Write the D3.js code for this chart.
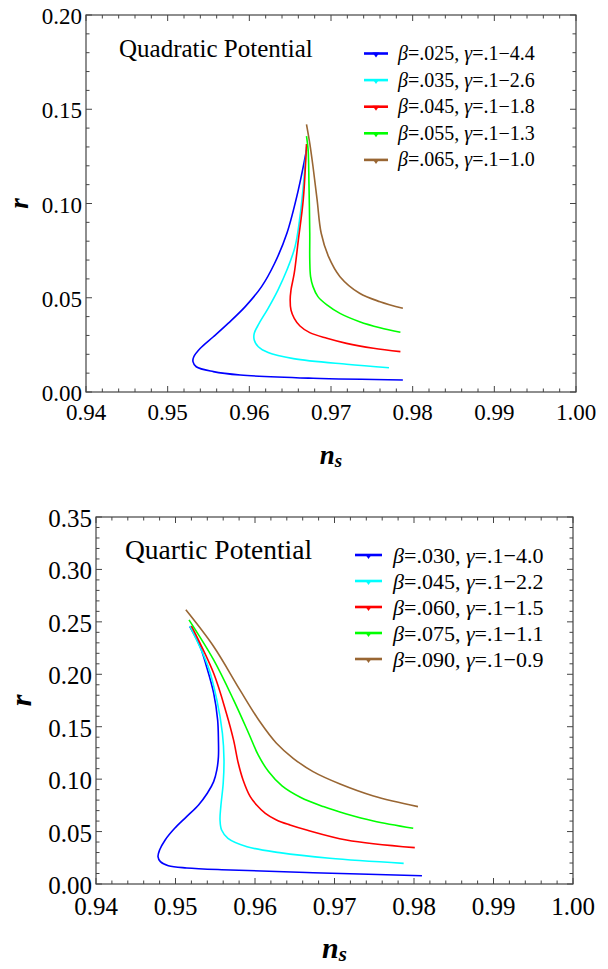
<!DOCTYPE html>
<html>
<head>
<meta charset="utf-8">
<script src="https://cdn.jsdelivr.net/npm/d3@7"></script>
<style>
  body { margin: 0; background: #fff; }
  svg { display: block; }
  text { font-family: "Liberation Serif", "Times New Roman", serif; fill: #000; }
</style>
</head>
<body>
<svg id="fig" width="608" height="969" font-family="Liberation Serif, serif"></svg>
<script>
// ---- data ----
var xTicks = [0.94, 0.95, 0.96, 0.97, 0.98, 0.99, 1.0];
var quadYTicks = [0, 0.05, 0.1, 0.15, 0.2];
var quartYTicks = [0, 0.05, 0.1, 0.15, 0.2, 0.25, 0.3, 0.35];
var seriesColors = ["#0000ff", "#00ffff", "#ff0000", "#00ff00", "#996633"];

var quadBeta = [".025", ".035", ".045", ".055", ".065"];
var quadGamma = [".1\u22124.4", ".1\u22122.6", ".1\u22121.8", ".1\u22121.3", ".1\u22121.0"];
var quartBeta = [".030", ".045", ".060", ".075", ".090"];
var quartGamma = [".1\u22124.0", ".1\u22122.2", ".1\u22121.5", ".1\u22121.1", ".1\u22120.9"];

// quadratic potential, [n_s, r]
var quad1 = [[0.9670, 0.1284], [0.9660, 0.1072], [0.9646, 0.0842], [0.9631, 0.0683], [0.9615, 0.0559],
  [0.9595, 0.0453], [0.9574, 0.0364], [0.9556, 0.0293], [0.9540, 0.0232], [0.9532, 0.0187],
  [0.9531, 0.0161], [0.9535, 0.0134], [0.9556, 0.0108], [0.9589, 0.0090], [0.9678, 0.0073], [0.9788, 0.0064]];
var quad2 = [[0.9670, 0.1301], [0.9666, 0.1089], [0.9662, 0.0930], [0.9656, 0.0771], [0.9646, 0.0647],
  [0.9635, 0.0541], [0.9623, 0.0444], [0.9612, 0.0364], [0.9606, 0.0311], [0.9606, 0.0276],
  [0.9611, 0.0240], [0.9623, 0.0209], [0.9654, 0.0177], [0.9719, 0.0147], [0.9771, 0.0129]];
var quad3 = [[0.9670, 0.1316], [0.9666, 0.1019], [0.9660, 0.0806], [0.9655, 0.0630], [0.9651, 0.0541],
  [0.9650, 0.0488], [0.9651, 0.0435], [0.9655, 0.0391], [0.9662, 0.0350], [0.9674, 0.0315],
  [0.9695, 0.0285], [0.9719, 0.0258], [0.9752, 0.0232], [0.9785, 0.0214]];
var quad4 = [[0.9670, 0.1358], [0.9672, 0.1284], [0.9673, 0.1107], [0.9674, 0.0842], [0.9674, 0.0700],
  [0.9675, 0.0612], [0.9678, 0.0559], [0.9684, 0.0506], [0.9695, 0.0462], [0.9711, 0.0417],
  [0.9735, 0.0373], [0.9760, 0.0341], [0.9785, 0.0317]];
var quad5 = [[0.9670, 0.1420], [0.9674, 0.1319], [0.9678, 0.1195], [0.9683, 0.1019], [0.9688, 0.0842],
  [0.9697, 0.0718], [0.9711, 0.0612], [0.9735, 0.0524], [0.9760, 0.0479], [0.9788, 0.0444]];

// quartic potential, [n_s, r]
var quart1 = [[0.9518, 0.2455], [0.9531, 0.2264], [0.9539, 0.2074], [0.9548, 0.1820], [0.9553, 0.1565],
  [0.9554, 0.1374], [0.9554, 0.1215], [0.9552, 0.1088], [0.9548, 0.0976], [0.9540, 0.0865],
  [0.9529, 0.0754], [0.9514, 0.0642], [0.9499, 0.0531], [0.9487, 0.0420], [0.9480, 0.0324],
  [0.9478, 0.0261], [0.9481, 0.0213], [0.9491, 0.0175], [0.9514, 0.0153], [0.9569, 0.0134],
  [0.9673, 0.0108], [0.9810, 0.0079]];
var quart2 = [[0.9518, 0.2462], [0.9541, 0.2074], [0.9552, 0.1756], [0.9559, 0.1438], [0.9561, 0.1183],
  [0.9560, 0.0961], [0.9557, 0.0738], [0.9556, 0.0611], [0.9558, 0.0515], [0.9566, 0.0436],
  [0.9590, 0.0356], [0.9631, 0.0299], [0.9694, 0.0245], [0.9787, 0.0197]];
var quart3 = [[0.9520, 0.2462], [0.9548, 0.2010], [0.9564, 0.1629], [0.9573, 0.1374], [0.9579, 0.1151],
  [0.9585, 0.0992], [0.9594, 0.0833], [0.9602, 0.0754], [0.9613, 0.0674], [0.9627, 0.0611],
  [0.9644, 0.0563], [0.9665, 0.0515], [0.9715, 0.0420], [0.9801, 0.0347]];
var quart4 = [[0.9517, 0.2519], [0.9548, 0.2137], [0.9573, 0.1756], [0.9592, 0.1438], [0.9604, 0.1231],
  [0.9617, 0.1072], [0.9634, 0.0935], [0.9657, 0.0827], [0.9686, 0.0738], [0.9715, 0.0668],
  [0.9749, 0.0601], [0.9799, 0.0531]];
var quart5 = [[0.9513, 0.2615], [0.9548, 0.2265], [0.9581, 0.1851], [0.9606, 0.1549], [0.9627, 0.1342],
  [0.9648, 0.1199], [0.9673, 0.1072], [0.9707, 0.0954], [0.9749, 0.0840], [0.9805, 0.0738]];

var svg = d3.select("#fig");

function panel(cfg) {
  var x = d3.scaleLinear().domain([0.94, 1.0]).range([cfg.left, cfg.right]);
  var y = d3.scaleLinear().domain([0, cfg.yTicks[cfg.yTicks.length - 1]]).range([cfg.bottom, cfg.top]);
  var g = svg.append("g").attr("font-family", "Liberation Serif, serif");
  var fmt = d3.format(".2f");
  var frameCol = "#444";

  // curves
  var line = d3.line()
    .x(function (d) { return x(d[0]); })
    .y(function (d) { return y(d[1]); })
    .curve(d3.curveCatmullRom.alpha(0.5));
  g.append("g").selectAll("path")
    .data(cfg.series)
    .enter()
    .append("path")
    .attr("d", function (d) { return line(d); })
    .style("fill", "none")
    .attr("stroke", function (d, i) { return seriesColors[i]; })
    .attr("stroke-width", 1.6);

  // frame
  g.append("rect")
    .attr("x", cfg.left).attr("y", cfg.top)
    .attr("width", cfg.right - cfg.left).attr("height", cfg.bottom - cfg.top)
    .style("fill", "none").attr("stroke", frameCol).attr("stroke-width", 1.2);

  // ticks, inward on all four sides
  var xMinor = d3.range(0.94, 1.0001, 0.002);
  var yMax = cfg.yTicks[cfg.yTicks.length - 1];
  var yMinor = d3.range(0, yMax + 0.0001, 0.01);
  var tk = g.append("g").attr("stroke", frameCol).attr("stroke-width", 1);
  xMinor.forEach(function (v) {
    var major = xTicks.some(function (t) { return Math.abs(t - v) < 1e-6; });
    var len = major ? 6 : 3.5;
    tk.append("line").attr("x1", x(v)).attr("x2", x(v)).attr("y1", cfg.bottom).attr("y2", cfg.bottom - len);
    tk.append("line").attr("x1", x(v)).attr("x2", x(v)).attr("y1", cfg.top).attr("y2", cfg.top + len);
  });
  yMinor.forEach(function (v) {
    var major = cfg.yTicks.some(function (t) { return Math.abs(t - v) < 1e-6; });
    var len = major ? 6 : 3.5;
    tk.append("line").attr("y1", y(v)).attr("y2", y(v)).attr("x1", cfg.left).attr("x2", cfg.left + len);
    tk.append("line").attr("y1", y(v)).attr("y2", y(v)).attr("x1", cfg.right).attr("x2", cfg.right - len);
  });

  // tick labels
  g.append("g").selectAll("text")
    .data(xTicks).enter().append("text")
    .attr("x", function (d) { return x(d); })
    .attr("y", cfg.bottom + cfg.xLabDy)
    .attr("text-anchor", "middle")
    .style("font-size", cfg.tickFont + "px")
    .text(fmt);
  g.append("g").selectAll("text")
    .data(cfg.yTicks).enter().append("text")
    .attr("x", cfg.left - 4)
    .attr("y", function (d) { return y(d) + cfg.yLabDy; })
    .attr("text-anchor", "end")
    .style("font-size", cfg.tickFont + "px")
    .text(fmt);

  // axis titles
  var nx = g.append("text")
    .attr("x", (cfg.left + cfg.right) / 2)
    .attr("y", cfg.nsY)
    .attr("text-anchor", "middle")
    .style("font-size", cfg.axisFont + "px")
    .style("font-weight", "bold")
    .style("font-style", "italic");
  nx.append("tspan").text("n");
  nx.append("tspan").attr("dy", cfg.axisFont * 0.1).style("font-size", (cfg.axisFont * 0.7) + "px").text("s");
  g.append("text")
    .attr("transform", "translate(" + cfg.rX + "," + (cfg.top + cfg.bottom) / 2 + ") rotate(-90)")
    .attr("text-anchor", "middle")
    .style("font-size", cfg.axisFont + "px")
    .style("font-weight", "bold")
    .style("font-style", "italic")
    .text("r");

  // title
  g.append("text")
    .attr("x", cfg.titleX).attr("y", cfg.titleY)
    .style("font-size", cfg.titleFont + "px")
    .text(cfg.title);

  // legend
  var leg = g.append("g").selectAll("g")
    .data(cfg.beta).enter().append("g")
    .attr("transform", function (d, i) { return "translate(" + cfg.legX + "," + (cfg.legY + i * cfg.legStep) + ")"; });
  leg.append("line")
    .attr("x1", 0).attr("x2", cfg.legLen).attr("y1", 0).attr("y2", 0)
    .attr("stroke", function (d, i) { return seriesColors[i]; })
    .attr("stroke-width", 2.6);
  leg.append("path")
    .attr("d", "M" + (cfg.legLen / 2 - 3.5) + ",-1 L" + (cfg.legLen / 2 + 3.5) + ",-1 L" + (cfg.legLen / 2) + ",4 Z")
    .style("fill", function (d, i) { return seriesColors[i]; });
  var lt = leg.append("text")
    .attr("x", cfg.legLen + cfg.legGap)
    .attr("y", cfg.legDy)
    .style("font-size", cfg.legFont + "px");
  lt.append("tspan").style("font-style", "italic").text("\u03b2");
  lt.append("tspan").text(function (d) { return "=" + d + ", "; });
  lt.append("tspan").style("font-style", "italic").text("\u03b3");
  lt.append("tspan").text(function (d, i) { return "=" + cfg.gamma[i]; });
}

panel({
  left: 86, right: 576, top: 15, bottom: 392,
  yTicks: quadYTicks,
  series: [quad1, quad2, quad3, quad4, quad5],
  beta: quadBeta, gamma: quadGamma,
  tickFont: 23, xLabDy: 28, yLabDy: 9,
  axisFont: 27, nsY: 464, rX: 28,
  title: "Quadratic Potential", titleX: 119, titleY: 57, titleFont: 25,
  legX: 364, legY: 53.5, legStep: 26.6, legLen: 24, legGap: 10, legDy: 6.5, legFont: 20
});

panel({
  left: 96, right: 573, top: 517, bottom: 884,
  yTicks: quartYTicks,
  series: [quart1, quart2, quart3, quart4, quart5],
  beta: quartBeta, gamma: quartGamma,
  tickFont: 25, xLabDy: 31, yLabDy: 10,
  axisFont: 30, nsY: 958, rX: 31,
  title: "Quartic Potential", titleX: 125, titleY: 559, titleFont: 27.5,
  legX: 355, legY: 555, legStep: 26, legLen: 27, legGap: 11, legDy: 7.5, legFont: 22
});
</script>
</body>
</html>
